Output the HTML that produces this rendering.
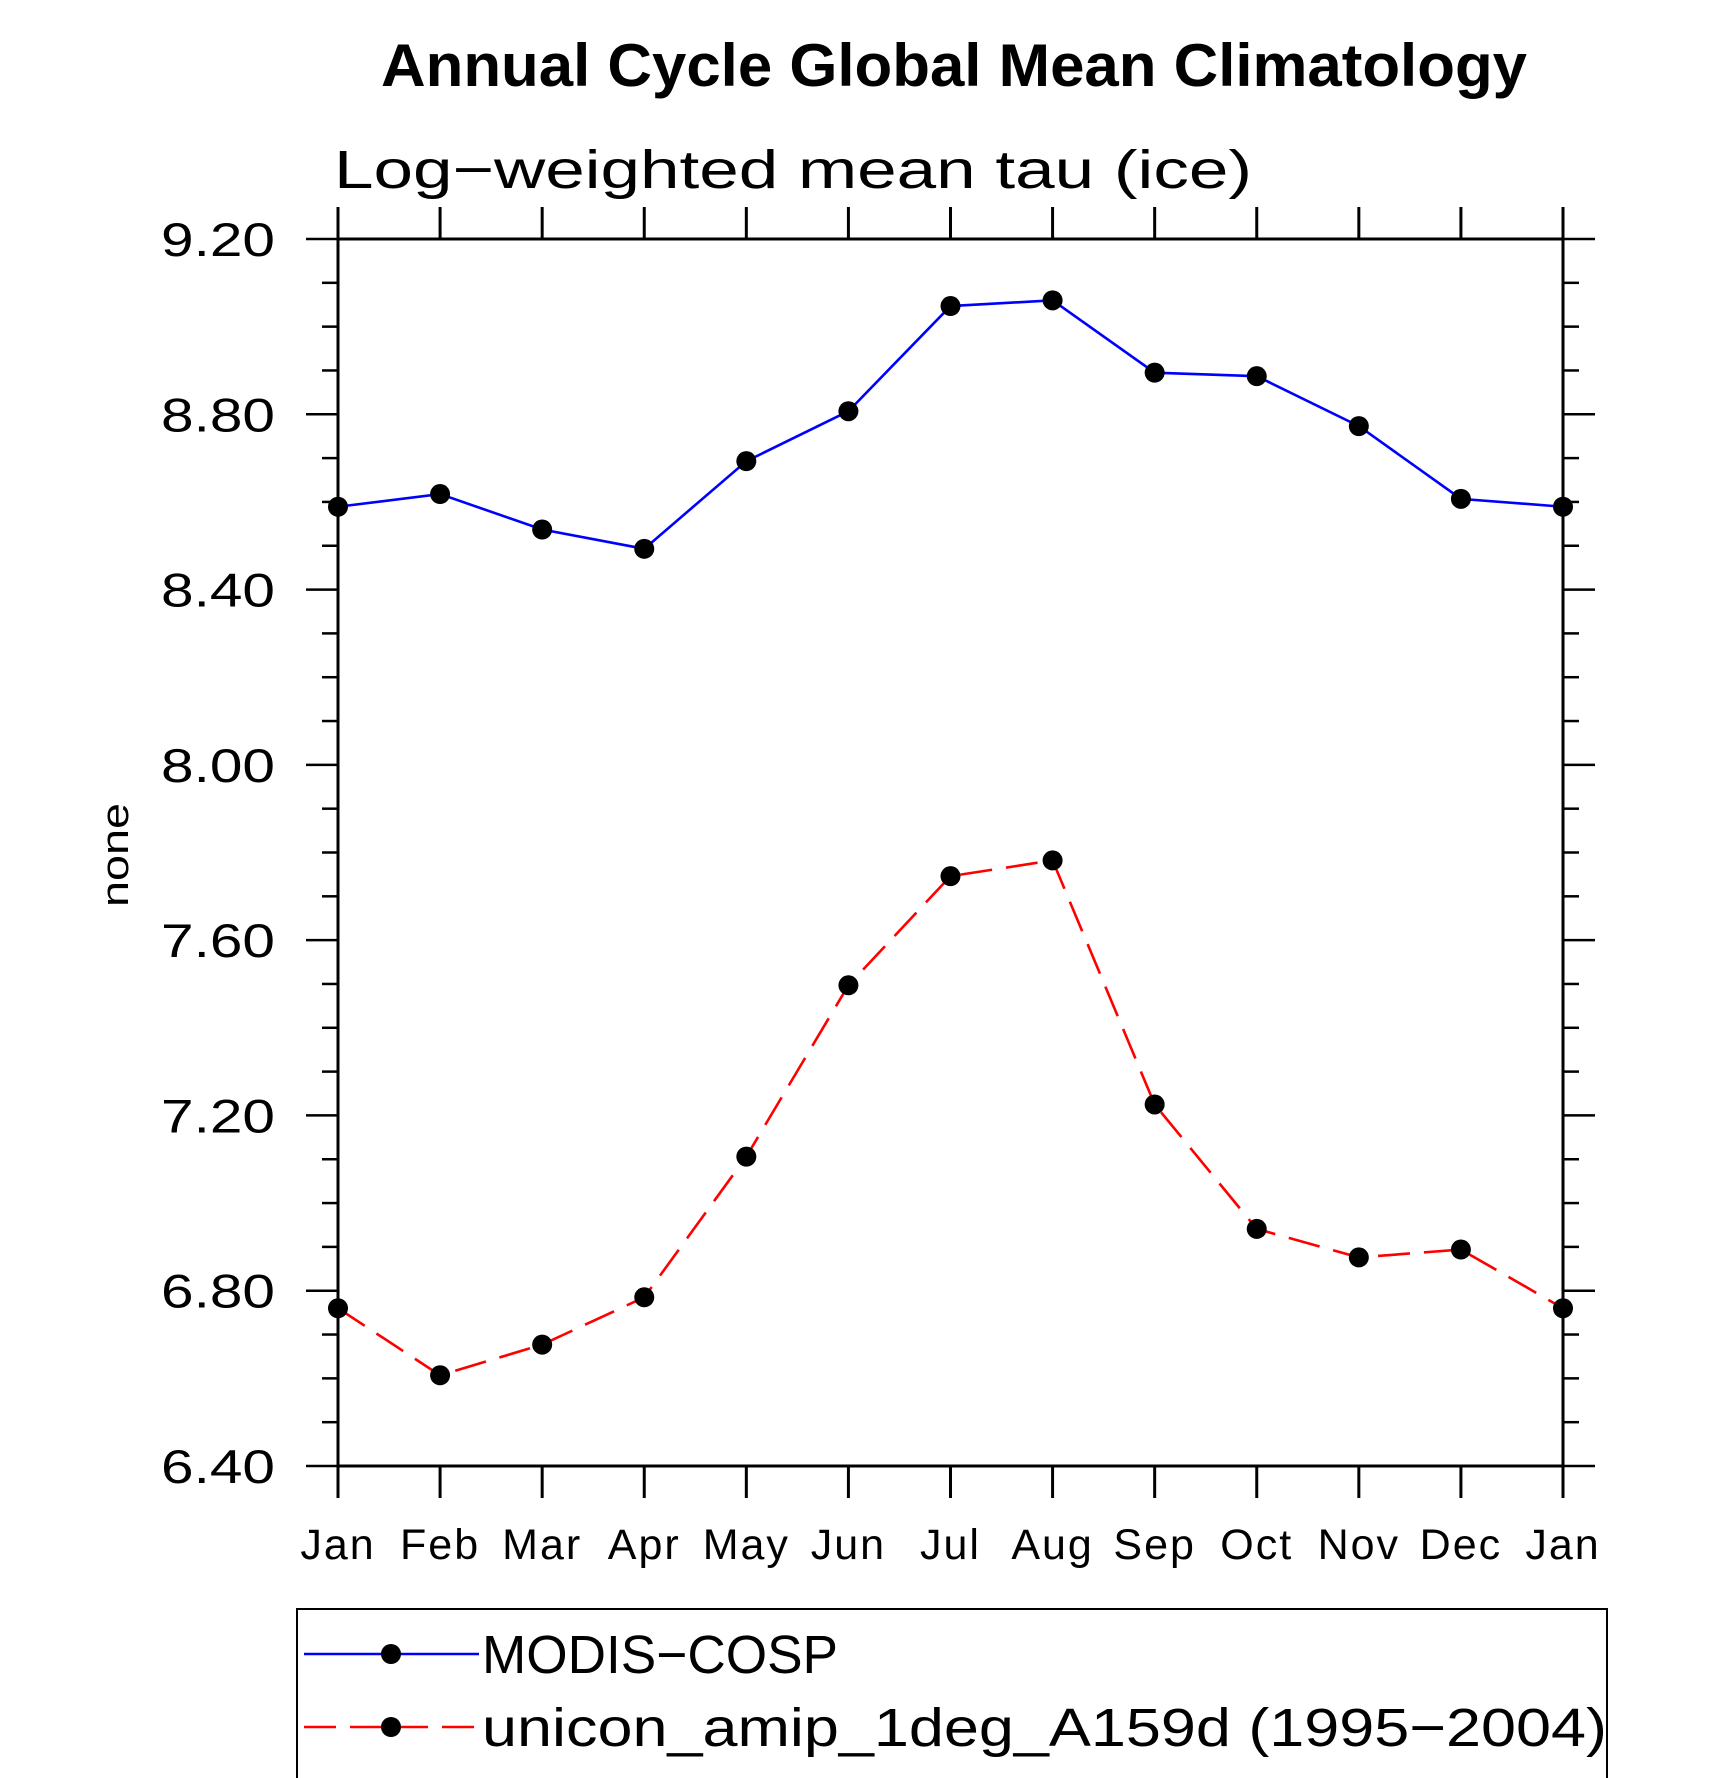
<!DOCTYPE html>
<html><head><meta charset="utf-8"><style>
html,body{margin:0;padding:0;background:#fff;}
svg{display:block;font-family:"Liberation Sans",sans-serif;}
</style></head><body>
<svg id="chart" width="1710" height="1778" viewBox="0 0 1710 1778" xmlns="http://www.w3.org/2000/svg">
<text x="954" y="86" text-anchor="middle" font-size="60" font-weight="bold" textLength="1146" lengthAdjust="spacingAndGlyphs">Annual Cycle Global Mean Climatology</text>
<text x="334" y="188" font-size="54" textLength="918" lengthAdjust="spacingAndGlyphs">Log−weighted mean tau (ice)</text>
<text x="0" y="0" font-size="38" text-anchor="middle" textLength="104" lengthAdjust="spacingAndGlyphs" transform="translate(128,855) rotate(-90)">none</text>
<g id="axes"></g>
<g id="series"></g>
<g>
<rect x="297" y="1609" width="1310" height="170" fill="none" stroke="#000" stroke-width="2"/>
<g>
<line x1="304" y1="1654" x2="479" y2="1654" stroke="#0000ff" stroke-width="2.6"/>
<circle cx="391" cy="1654" r="10" fill="#000"/>
<text x="482" y="1673" font-size="54" textLength="356" lengthAdjust="spacingAndGlyphs">MODIS−COSP</text>
</g>
<g>
<line x1="304" y1="1727" x2="479" y2="1727" stroke="#ff0000" stroke-width="2.6" stroke-dasharray="32,14"/>
<circle cx="391" cy="1727" r="10" fill="#000"/>
<text x="482" y="1746" font-size="54" textLength="1125" lengthAdjust="spacingAndGlyphs">unicon_amip_1deg_A159d (1995−2004)</text>
</g>
</g>
</svg>
<script>
const months = ["Jan","Feb","Mar","Apr","May","Jun","Jul","Aug","Sep","Oct","Nov","Dec","Jan"];
const modisValues = [8.589,8.618,8.537,8.493,8.693,8.807,9.047,9.060,8.895,8.887,8.773,8.607,8.589];
const uniconValues = [6.760,6.607,6.677,6.785,7.106,7.497,7.746,7.782,7.225,6.941,6.876,6.894,6.760];
const yTickLabels = ["6.40","6.80","7.20","7.60","8.00","8.40","8.80","9.20"];
const yMin = 6.4, yMax = 9.2;

const NS = "http://www.w3.org/2000/svg";
const L = 338, R = 1563, T = 239, B = 1466;
function xScale(i){ return L + (R - L) * i / (months.length - 1); }
function yScale(v){ return B - (B - T) * (v - yMin) / (yMax - yMin); }
function mk(tag, attrs, parent){
  const e = document.createElementNS(NS, tag);
  for (const k in attrs) e.setAttribute(k, attrs[k]);
  parent.appendChild(e);
  return e;
}
const axes = document.getElementById('axes');
const frame = mk('rect', {x:L, y:T, width:R-L, height:B-T, fill:'none', stroke:'#000', 'stroke-width':3}, axes);


months.forEach((m, i) => {
  const x = xScale(i);
  const tb = mk('line', {x1:x, y1:B, x2:x, y2:B+32, stroke:'#000', 'stroke-width':3}, axes);
  
  
  const tt = mk('line', {x1:x, y1:T, x2:x, y2:T-32, stroke:'#000', 'stroke-width':3}, axes);
  
  
  const lab = mk('text', {x:x, y:1559, 'font-size':43, 'text-anchor':'middle', 'letter-spacing':'2'}, axes);
  lab.textContent = m;
  
  
});
for (let k = 0; k <= 28; k++) {
  const v = yMin + k * 0.1;
  const y = yScale(v);
  const major = k % 4 === 0;
  const len = major ? 32 : 16;
  const tl = mk('line', {x1:L-len, y1:y, x2:L, y2:y, stroke:'#000', 'stroke-width':2.5}, axes);
  
  
  const tr = mk('line', {x1:R, y1:y, x2:R+len, y2:y, stroke:'#000', 'stroke-width':2.5}, axes);
  
  
}
yTickLabels.forEach((t) => {
  const y = yScale(parseFloat(t));
  const lab = mk('text', {x:275, y:y+17, 'font-size':47, 'text-anchor':'end', textLength:114, lengthAdjust:'spacingAndGlyphs'}, axes);
  lab.textContent = t;
  
  
});
const sg = document.getElementById('series');
function drawSeries(vals, color, dash, name){
  const pts = vals.map((v, i) => xScale(i) + ',' + yScale(v)).join(' ');
  const attrs = {points:pts, fill:'none', stroke:color, 'stroke-width':2.6};
  if (dash) attrs['stroke-dasharray'] = dash;
  const pl = mk('polyline', attrs, sg);
  
  
  vals.forEach((v, i) => {
    const c = mk('circle', {cx:xScale(i), cy:yScale(v), r:10, fill:'#000'}, sg);
    
    
  });
}
drawSeries(modisValues, '#0000ff', null, 'modis');
drawSeries(uniconValues, '#ff0000', '32,14', 'unicon');
</script>
</body></html>
